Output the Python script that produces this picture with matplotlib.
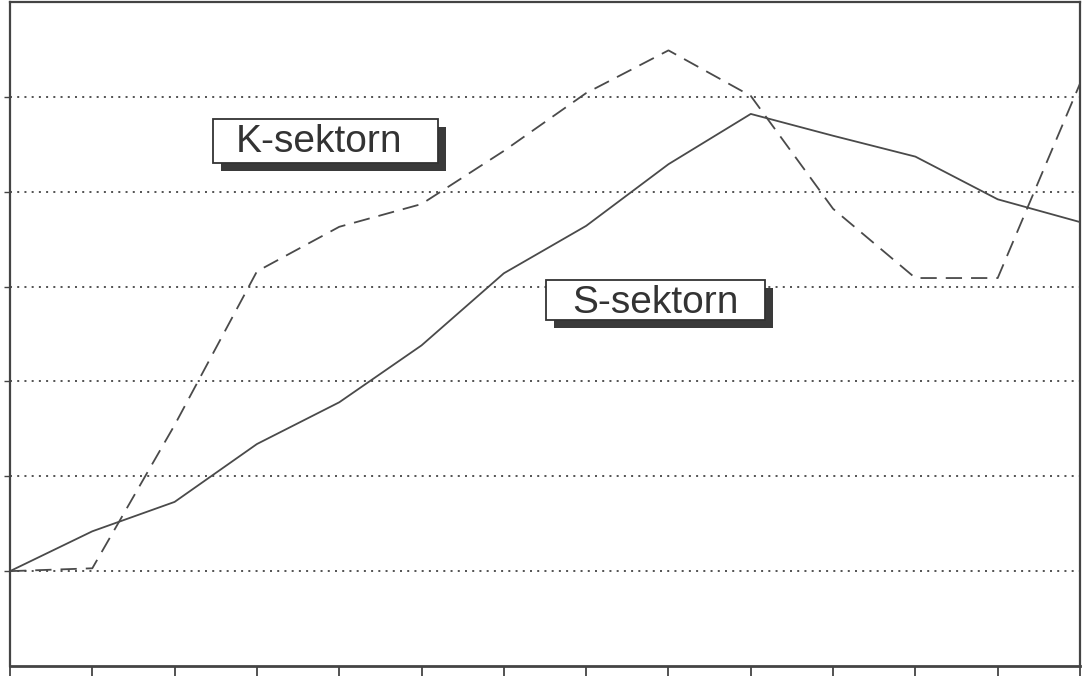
import matplotlib
matplotlib.use('Agg')
import matplotlib.pyplot as plt
from matplotlib.patches import Rectangle
import numpy as np

# x positions (periods), no labels in the original
periods = np.arange(14)

# S-sektorn (solid) and K-sektorn (dashed)
s_sektorn = [1.00, 1.42, 1.73, 2.34, 2.78, 3.38, 4.14, 4.64, 5.29, 5.82, 5.59, 5.37, 4.92, 4.68]
k_sektorn = [1.00, 1.03, 2.54, 4.16, 4.63, 4.87, 5.43, 6.04, 6.49, 6.01, 4.82, 4.09, 4.09, 6.14]

grid_levels = [1, 2, 3, 4, 5, 6]

plt.rcParams['font.family'] = ['Liberation Sans', 'DejaVu Sans']

fig = plt.figure(figsize=(10.84, 6.76), dpi=100)
# axes box in pixels: x 10..1080, y 2..666
ax = fig.add_axes([10 / 1084, 10 / 676, 1070 / 1084, 664 / 676])

line_col = '#4a4a4a'

# dotted horizontal grid
for g in grid_levels:
    ax.axhline(g, color='#444444', lw=1.3, ls=(0, (1.1, 2.9)), zorder=1)

ax.plot(periods, s_sektorn, color=line_col, lw=1.3, zorder=3)
ax.plot(periods, k_sektorn, color=line_col, lw=1.3, ls=(0, (9, 5)), zorder=3)

ax.set_xlim(0, 13)
ax.set_ylim(0, 7)
ax.set_xticks(periods)
ax.set_yticks(grid_levels)
ax.set_xticklabels([])
ax.set_yticklabels([])
ax.tick_params(axis='x', direction='out', length=7, width=1.3, colors='#444444')
ax.tick_params(axis='y', direction='out', length=4, width=1.0, colors='#444444')
for side, sp in ax.spines.items():
    sp.set_color('#444444')
    sp.set_linewidth(1.6)
ax.spines['bottom'].set_linewidth(2.0)


def label_box(x0, y0, x1, y1, tx, ty, text):
    # shadow offset ~8 px right / down
    dx = 8 / 1070
    dy = 8 / 664
    ax.add_patch(Rectangle((x0 + dx, y0 - dy), x1 - x0, y1 - y0, transform=ax.transAxes,
                           facecolor='#3a3a3a', edgecolor='none', zorder=5))
    ax.add_patch(Rectangle((x0, y0), x1 - x0, y1 - y0, transform=ax.transAxes,
                           facecolor='white', edgecolor='#333333', lw=1.3, zorder=6))
    ax.text(tx, ty, text, transform=ax.transAxes, ha='center', va='baseline',
            fontsize=28, color='#333333', zorder=7)


label_box(0.1897, 0.7575, 0.4000, 0.8238, 0.289, 0.774, 'K-sektorn')
label_box(0.5010, 0.5210, 0.7056, 0.5813, 0.603, 0.5316, 'S-sektorn')

fig.savefig('out.png', dpi=100)
